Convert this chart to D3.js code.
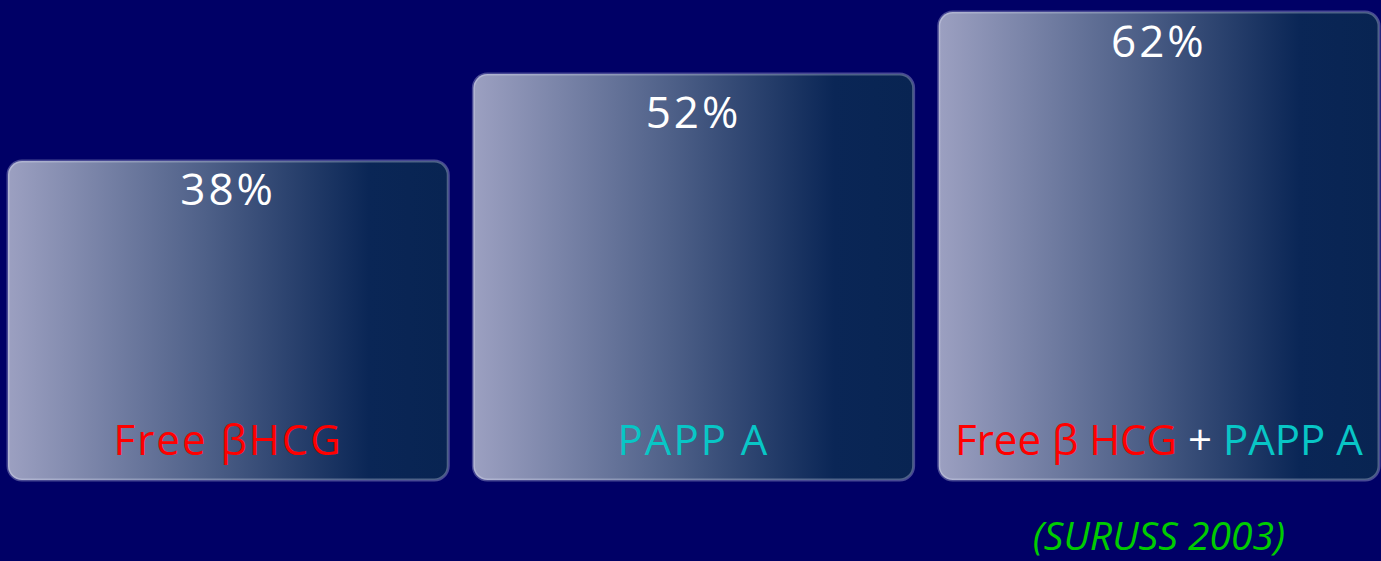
<!DOCTYPE html>
<html>
<head>
<meta charset="utf-8">
<script src="https://cdn.jsdelivr.net/npm/d3@7"></script>
<style>
	html, body { margin: 0; padding: 0; background: #000066; overflow: hidden; }
	text { font-family: "Open Sans", "DejaVu Sans", sans-serif; white-space: pre; }
</style>
</head>
<body>
<script>
// Chart data
const categories = ["Free βHCG", "PAPP A", "Free β HCG + PAPP A"];
const values = [38, 52, 62];
const labelParts = [["Free βHCG"], ["PAPP A"], ["Free β HCG", " + ", "PAPP A"]];
const source = "(SURUSS 2003)";

const w = 1381; // Width of the SVG
const h = 561; // Height of the SVG
const baseline = 480; // bottom of the boxes
const pctOffset = [44, 54, 45]; // distance from box top to the percent baseline
const catSpacing = [2, 2, 0]; // letter spacing of the category labels

const svg = d3.select("body").append("svg").attr("width", w).attr("height", h);

svg.append("rect").attr("width", w).attr("height", h).attr("fill", "#000066");

// Gradient used by every box
const grad = svg.append("defs").append("linearGradient").attr("id", "boxGrad")
	.attr("x1", "0%").attr("x2", "100%").attr("y1", "0%").attr("y2", "0%");
grad.append("stop").attr("offset", "0%").attr("stop-color", "#9ca0c1");
grad.append("stop").attr("offset", "45%").attr("stop-color", "#4e6088");
grad.append("stop").attr("offset", "82%").attr("stop-color", "#0a2656");
grad.append("stop").attr("offset", "100%").attr("stop-color", "#082452");

// Scales
const xScale = d3.scaleBand().domain(categories).range([8, 1379]).paddingInner(0.054).paddingOuter(0);
const yScale = d3.scaleLinear().domain([38, 62]).range([161, 12]);

// Boxes
svg.selectAll("rect.box")
	.data(values)
	.enter()
	.append("rect")
	.attr("class", "box")
	.attr("x", (d, i) => xScale(categories[i]))
	.attr("y", (d) => yScale(d))
	.attr("width", xScale.bandwidth())
	.attr("height", (d) => baseline - yScale(d))
	.attr("rx", 14)
	.attr("fill", "url(#boxGrad)")
	.attr("stroke", "rgba(235,238,255,0.3)")
	.attr("stroke-width", 3);

// Percent labels
svg.selectAll("text.pct")
	.data(values)
	.enter()
	.append("text")
	.attr("class", "pct")
	.attr("x", (d, i) => xScale(categories[i]) + xScale.bandwidth() / 2)
	.attr("y", (d, i) => yScale(d) + pctOffset[i])
	.attr("text-anchor", "middle")
	.attr("fill", "#ffffff")
	.style("font-size", "44px")
	.style("letter-spacing", "3px")
	.text((d) => d + "%");

// Category labels, coloured part by part
function partColor(s) {
	if (s.indexOf("Free") >= 0) return "#ff0000";
	if (s.indexOf("PAPP") >= 0) return "#08c6c6";
	return "#ffffff";
}

const catText = svg.selectAll("text.cat")
	.data(labelParts)
	.enter()
	.append("text")
	.attr("class", "cat")
	.attr("x", (d, i) => xScale(categories[i]) + xScale.bandwidth() / 2)
	.attr("y", 455)
	.attr("text-anchor", "middle")
	.style("font-size", "42px")
	.style("letter-spacing", (d, i) => catSpacing[i] + "px");

catText.selectAll("tspan")
	.data((d) => d)
	.enter()
	.append("tspan")
	.attr("fill", (d) => partColor(d))
	.text((d) => d);

// Source note
svg.append("text")
	.attr("x", xScale(categories[2]) + xScale.bandwidth() / 2)
	.attr("y", 550)
	.attr("text-anchor", "middle")
	.attr("fill", "#00cc00")
	.style("font-size", "39px")
	.style("font-style", "italic")
	.text(source);
</script>
</body>
</html>
